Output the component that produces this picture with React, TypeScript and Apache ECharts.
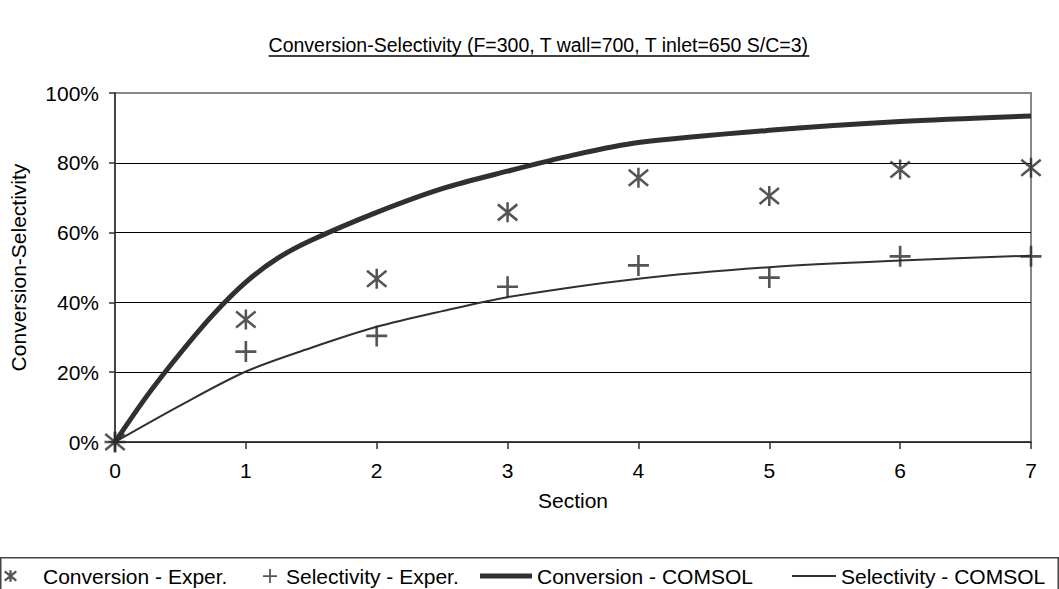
import React, { useEffect, useRef } from "react";
import * as echarts from "echarts";

const titleText = "Conversion-Selectivity (F=300, T wall=700, T inlet=650 S/C=3)";
const xAxisName = "Section";
const yAxisName = "Conversion-Selectivity";

const expSections = [0, 1, 2, 3, 4, 5, 6, 7];
const conversionExper = [0, 35.1, 46.8, 65.8, 75.7, 70.5, 78.1, 78.6];
const selectivityExper = [0, 25.9, 30.4, 44.5, 50.6, 47.1, 53.2, 53.2];

const convComsolX = [0, 0.25, 0.5, 0.75, 1, 1.25, 1.5, 2, 2.5, 3, 3.5, 4, 5, 6, 7];
const convComsol = [0, 13.5, 25.5, 36.5, 45.8, 52.8, 57.8, 65.8, 72.6, 77.6, 82.2, 85.8, 89.3, 91.8, 93.4];

const selComsolX = [0, 0.5, 1, 1.5, 2, 2.5, 3, 4, 5, 6, 7];
const selComsol = [0, 10.5, 20.2, 27, 33, 37.5, 41.5, 46.8, 50.1, 52, 53.4];

const seriesNames = [
  "Conversion - Exper.",
  "Selectivity - Exper.",
  "Conversion - COMSOL",
  "Selectivity - COMSOL",
];

const FONT = "'Liberation Sans', Arial, sans-serif";
const INK = "#303030";
const MARK = "#2b2b2b";

const asteriskPath =
  "path://M-10.81,-6.98L9.19,9.02L10.81,6.98L-9.19,-9.02Z" +
  "M-9.19,9.02L10.81,-6.98L9.19,-9.02L-10.81,6.98Z" +
  "M-1.3,-10L-1.3,10L1.3,10L1.3,-10Z";
const asteriskIcon =
  "path://M-11.25,-6.44L8.75,9.56L11.25,6.44L-8.75,-9.56Z" +
  "M-8.75,9.56L11.25,-6.44L8.75,-9.56L-11.25,6.44Z" +
  "M-2,-10L-2,10L2,10L2,-10Z";
const plusPath = "path://M-10,-1.25h20v2.5h-20zM-1.25,-10h2.5v20h-2.5z";

export default function App() {
  const ref = useRef<HTMLDivElement>(null);

  useEffect(() => {
    document.body.style.margin = "0";
    if (!ref.current) return;
    const chart = echarts.init(ref.current, null, { renderer: "svg" });

    const fontSize = 21;
    const titleSize = 19.5;
    const canvas = document.createElement("canvas");
    const ctx = canvas.getContext("2d");
    let tw = 540;
    if (ctx) {
      ctx.font = `${titleSize}px 'Liberation Sans', Arial, sans-serif`;
      tw = ctx.measureText(titleText).width;
    }
    const titleCx = 539;
    const titleTop = 35;

    const zip = (xs: number[], ys: number[]) => xs.map((x, i) => [x, ys[i]]);

    const textStyle = { fontSize, fontFamily: FONT, color: "#000" };
    const legendBase = {
      orient: "horizontal",
      top: 565.5,
      padding: 0,
      itemHeight: 15,
      textStyle,
    };

    chart.setOption({
      animation: false,
      backgroundColor: "#fff",
      title: {
        text: titleText,
        left: titleCx - tw / 2,
        top: titleTop,
        padding: 0,
        textStyle: { fontSize: titleSize, fontWeight: "normal", fontFamily: FONT, color: "#000" },
      },
      graphic: [
        {
          type: "line",
          shape: { x1: titleCx - tw / 2, y1: titleTop + 21, x2: titleCx + tw / 2, y2: titleTop + 21 },
          style: { stroke: "#000", lineWidth: 1.5 },
        },
        {
          type: "rect",
          shape: { x: 0.75, y: 557.75, width: 1057.5, height: 40 },
          style: { fill: "none", stroke: "#444", lineWidth: 1.5 },
        },
      ],
      legend: [
        { ...legendBase, data: [{ name: seriesNames[0], icon: asteriskIcon }], left: 4, itemWidth: 13, itemHeight: 13, textStyle: { ...textStyle, padding: [0, 0, 0, 21] } },
        { ...legendBase, data: [seriesNames[1]], left: 263, itemWidth: 14, itemHeight: 14, textStyle: { ...textStyle, padding: [0, 0, 0, 4] } },
        { ...legendBase, data: [{ name: seriesNames[2], icon: "rect" }], left: 480, itemWidth: 52, itemHeight: 5 },
        { ...legendBase, data: [{ name: seriesNames[3], icon: "rect" }], left: 792, itemWidth: 44, itemHeight: 2 },
      ],
      grid: { left: 115, top: 93, width: 916, height: 349, show: true, borderColor: "#888", borderWidth: 2, backgroundColor: "transparent" },
      xAxis: {
        type: "value",
        min: 0,
        max: 7,
        interval: 1,
        name: xAxisName,
        nameLocation: "middle",
        nameGap: 48,
        nameTextStyle: textStyle,
        axisLine: { show: true, onZero: false, lineStyle: { color: INK, width: 1.5 } },
        axisTick: { show: true, length: 7, lineStyle: { color: INK, width: 1.5 } },
        axisLabel: { ...textStyle, margin: 18 },
        splitLine: { show: false },
      },
      yAxis: {
        type: "value",
        min: 0,
        max: 100,
        interval: 20,
        name: yAxisName,
        nameLocation: "middle",
        nameGap: 86,
        nameTextStyle: textStyle,
        axisLine: { show: true, lineStyle: { color: INK, width: 1.5 } },
        axisTick: { show: true, length: 6, lineStyle: { color: INK, width: 1.5 } },
        axisLabel: { ...textStyle, margin: 16, formatter: "{value}%" },
        splitLine: { show: true, lineStyle: { color: ["#000", "#000", "#000", "#000", "#000", "#888"], width: 1 } },
      },
      series: [
        {
          name: seriesNames[0],
          type: "scatter",
          data: zip(expSections, conversionExper),
          symbol: asteriskPath,
          symbolSize: [21, 20],
          itemStyle: { color: MARK },
          z: 5,
        },
        {
          name: seriesNames[1],
          type: "scatter",
          data: zip(expSections, selectivityExper),
          symbol: plusPath,
          symbolSize: [21, 21],
          itemStyle: { color: MARK },
          z: 5,
        },
        {
          name: seriesNames[2],
          type: "line",
          data: zip(convComsolX, convComsol),
          smooth: 0.3,
          symbol: "none",
          lineStyle: { color: INK, width: 5 },
          itemStyle: { color: INK },
          z: 4,
        },
        {
          name: seriesNames[3],
          type: "line",
          data: zip(selComsolX, selComsol),
          smooth: 0.3,
          symbol: "none",
          lineStyle: { color: INK, width: 2 },
          itemStyle: { color: INK },
          z: 4,
        },
      ],
    });

    return () => chart.dispose();
  }, []);

  return <div ref={ref} style={{ width: 1059, height: 589 }} />;
}
